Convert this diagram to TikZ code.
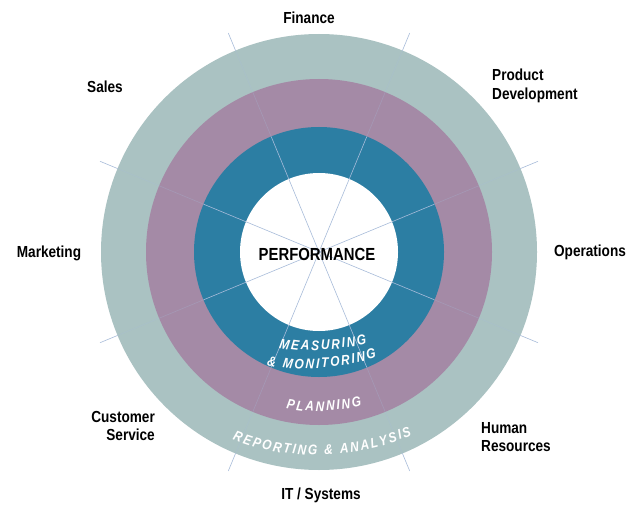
\documentclass[tikz,border=0pt]{standalone}
\usepackage{fontspec}
\setmainfont{Liberation Sans}
\newfontfamily\labelfont{Liberation Sans}[FakeStretch=0.85]
\font\rtraw="Liberation Sans/BI:extend=0.85" at 14pt
\definecolor{outerring}{RGB}{170,194,194}
\definecolor{planring}{RGB}{164,138,166}
\definecolor{measring}{RGB}{44,126,163}
\definecolor{spokecol}{RGB}{168,188,218}
\newdimen\rtW
\newbox\rtBox
\def\rtLs{2}
% #1 x, #2 y of baseline middle, #3 radius, #4 tilt, #5 list of characters
\newcommand\arcletters[5]{%
  \begin{scope}[rotate around={#4:(#1,#2)}]
    \gdef\rtTot{0}%
    \foreach \rtC in {#5}{%
      \setbox\rtBox\hbox{\rtraw\rtC}\rtW=\wd\rtBox
      \pgfmathsetmacro\rtTmp{\rtTot+\the\rtW+\rtLs}%
      \global\let\rtTot\rtTmp}%
    \gdef\rtAcc{0}%
    \foreach \rtC in {#5}{%
      \setbox\rtBox\hbox{\rtraw\rtC}\rtW=\wd\rtBox
      \pgfmathsetmacro\rtMid{\rtAcc+\the\rtW/2-(\rtTot-\rtLs)/2}%
      \pgfmathsetmacro\rtAng{270+\rtMid/#3*180/pi}%
      \node[ringchar, rotate=\rtAng-270] at ([shift={(\rtAng:#3)}]#1,#2+#3) {\rtC};
      \pgfmathsetmacro\rtTmp{\rtAcc+\the\rtW+\rtLs}%
      \global\let\rtAcc\rtTmp}%
  \end{scope}}
\begin{document}
\begin{tikzpicture}[x=1pt,y=1pt,
  lbl/.style={font=\labelfont\bfseries\fontsize{16}{18.5}\selectfont, text=black, inner sep=0pt},
  spokeline/.style={draw=spokecol, line width=0.6pt},
  ringchar/.style={anchor=base, inner sep=0pt, text=white, font=\rtraw}
  ]
\fill[white] (0,0) rectangle (628,504);
\useasboundingbox (0,0) rectangle (628,504);
\coordinate (C) at (319,252);
% rings
\fill[outerring] (C) circle (218);
\fill[planring] (C) circle (173);
\fill[measring] (C) circle (125);
\fill[white] (C) circle (79);
% spokes
\foreach \k in {0,...,7}{
  \pgfmathsetmacro{\spang}{22.5+45*\k}
  \coordinate (s\k a) at ([shift={(\spang:125)}]C);
  \coordinate (s\k b) at ([shift={(\spang:218)}]C);
  \coordinate (s\k c) at ([shift={(\spang:237)}]C);
  \draw[spokeline] (C) -- (s\k a);
  \draw[spokeline, opacity=0.3] (s\k a) -- (s\k b);
  \draw[spokeline] (s\k b) -- (s\k c);
}
% centre
\node[lbl, font=\labelfont\bfseries\fontsize{17.5}{20}\selectfont] (perf) at (317,250) {PERFORMANCE};
% ring texts
\arcletters{323}{154}{230}{3.3}{M,E,A,S,U,R,I,N,G}
\arcletters{322}{136}{230}{4.3}{\&,\space,M,O,N,I,T,O,R,I,N,G}
\arcletters{324}{93}{190}{2.5}{P,L,A,N,N,I,N,G}
\arcletters{322.5}{49}{240}{1.6}{R,E,P,O,R,T,I,N,G,\space,\&,\space,A,N,A,L,Y,S,I,S}
% outer labels
\node[lbl] (fin) at (309,486) {Finance};
\node[lbl, anchor=west, align=left] (prod) at (492,418) {Product\\Development};
\node[lbl] (sales) at (105,417) {Sales};
\node[lbl] (ops) at (590,252) {Operations};
\node[lbl] (mkt) at (49,251) {Marketing};
\node[lbl, anchor=east, align=right] (cust) at (155,78) {Customer\\Service};
\node[lbl, anchor=west, align=left] (hr) at (481,67) {Human\\Resources};
\node[lbl] (it) at (321,9) {IT / Systems};
\end{tikzpicture}
\end{document}
